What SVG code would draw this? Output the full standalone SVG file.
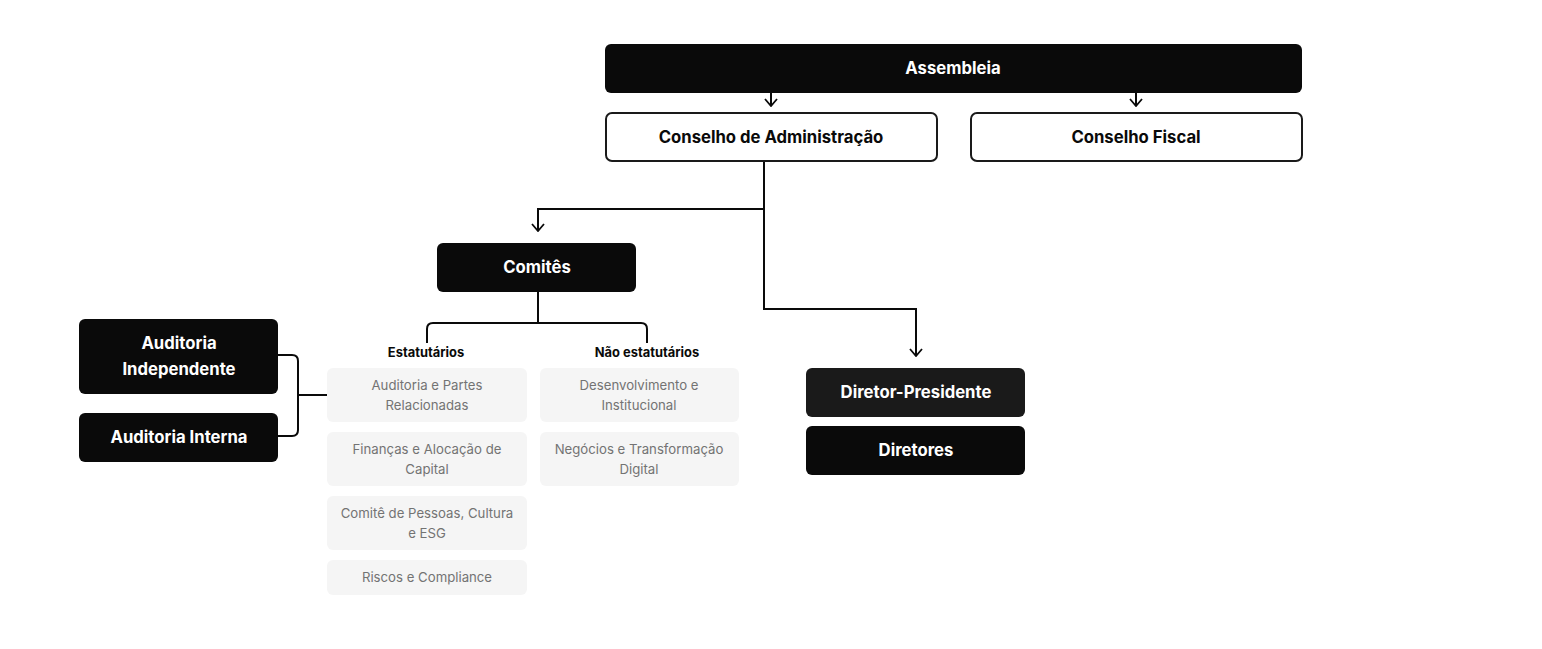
<svg xmlns="http://www.w3.org/2000/svg" width="1542" height="649" viewBox="0 0 1542 649">
<defs>
<style>
.dark{fill:#0a0a0a}
.dark2{fill:#1a1a1a}
.outline{fill:#ffffff;stroke:#1a1a1a;stroke-width:2}
.grey{fill:#f5f5f5}
.t{font-family:Inter,"Noto Sans","Liberation Sans",sans-serif;font-weight:700;font-size:16.7px;text-anchor:middle;dominant-baseline:central}
.w{fill:#ffffff}
.b{fill:#0a0a0a}
.h{font-family:Inter,"Noto Sans","Liberation Sans",sans-serif;font-weight:700;font-size:12.9px;text-anchor:middle;dominant-baseline:central;fill:#0a0a0a}
.g{font-family:Inter,"Noto Sans","Liberation Sans",sans-serif;font-weight:400;font-size:13.2px;text-anchor:middle;dominant-baseline:central;fill:#737373}
.c{fill:none;stroke:#0a0a0a;stroke-width:2}
</style>
<marker id="arr" viewBox="0 0 10 14" refX="9" refY="7" markerWidth="10" markerHeight="14" markerUnits="userSpaceOnUse" orient="auto">
<path d="M2 1 L9 7 L2 13" fill="none" stroke="#0a0a0a" stroke-width="1.8"/>
</marker>
</defs>
<rect width="1542" height="649" fill="#ffffff"/>

<g id="connectors">
<path class="c" d="M771 93 V106" marker-end="url(#arr)"/>
<path class="c" d="M1136 93 V106" marker-end="url(#arr)"/>
<path class="c" d="M764 161 V309 H916 V356" marker-end="url(#arr)"/>
<path class="c" d="M764 209 H538 V231" marker-end="url(#arr)"/>
<path class="c" d="M538 292 V323"/>
<path class="c" d="M427 343 V329 Q427 323 433 323 H641 Q647 323 647 329 V343"/>
<path class="c" d="M278 355 H292 Q298 355 298 361 V430 Q298 436 292 436 H278"/>
<path class="c" d="M298 395 H327"/>
</g>

<g id="assembleia">
<rect class="dark" x="605" y="44" width="697" height="49" rx="6"/>
<text class="t w" x="953" y="68">Assembleia</text>
</g>
<g id="conselho-administracao">
<rect class="outline" x="606" y="113" width="331" height="48" rx="6"/>
<text class="t b" x="771" y="137">Conselho de Administração</text>
</g>
<g id="conselho-fiscal">
<rect class="outline" x="971" y="113" width="331" height="48" rx="6"/>
<text class="t b" x="1136" y="137">Conselho Fiscal</text>
</g>
<g id="comites">
<rect class="dark" x="437" y="243" width="199" height="49" rx="6"/>
<text class="t w" x="537" y="267">Comitês</text>
</g>
<g id="estatutarios">
<text class="h" x="426" y="352">Estatutários</text>
</g>
<g id="nao-estatutarios">
<text class="h" x="647" y="352">Não estatutários</text>
</g>
<g id="auditoria-partes">
<rect class="grey" x="327" y="368" width="200" height="54" rx="6"/>
<text class="g" x="427" y="385">Auditoria e Partes</text>
<text class="g" x="427" y="405">Relacionadas</text>
</g>
<g id="financas">
<rect class="grey" x="327" y="432" width="200" height="54" rx="6"/>
<text class="g" x="427" y="449">Finanças e Alocação de</text>
<text class="g" x="427" y="469">Capital</text>
</g>
<g id="pessoas">
<rect class="grey" x="327" y="496" width="200" height="54" rx="6"/>
<text class="g" x="427" y="513">Comitê de Pessoas, Cultura</text>
<text class="g" x="427" y="533">e ESG</text>
</g>
<g id="riscos">
<rect class="grey" x="327" y="560" width="200" height="35" rx="6"/>
<text class="g" x="427" y="577">Riscos e Compliance</text>
</g>
<g id="desenvolvimento">
<rect class="grey" x="540" y="368" width="199" height="54" rx="6"/>
<text class="g" x="639" y="385">Desenvolvimento e</text>
<text class="g" x="639" y="405">Institucional</text>
</g>
<g id="negocios">
<rect class="grey" x="540" y="432" width="199" height="54" rx="6"/>
<text class="g" x="639" y="449">Negócios e Transformação</text>
<text class="g" x="639" y="469">Digital</text>
</g>
<g id="auditoria-independente">
<rect class="dark" x="79" y="319" width="199" height="75" rx="6"/>
<text class="t w" x="179" y="343">Auditoria</text>
<text class="t w" x="179" y="369">Independente</text>
</g>
<g id="auditoria-interna">
<rect class="dark" x="79" y="413" width="199" height="49" rx="6"/>
<text class="t w" x="179" y="437">Auditoria Interna</text>
</g>
<g id="diretor-presidente">
<rect class="dark2" x="806" y="368" width="219" height="49" rx="6"/>
<text class="t w" x="916" y="392">Diretor-Presidente</text>
</g>
<g id="diretores">
<rect class="dark" x="806" y="426" width="219" height="49" rx="6"/>
<text class="t w" x="916" y="450">Diretores</text>
</g>
</svg>
